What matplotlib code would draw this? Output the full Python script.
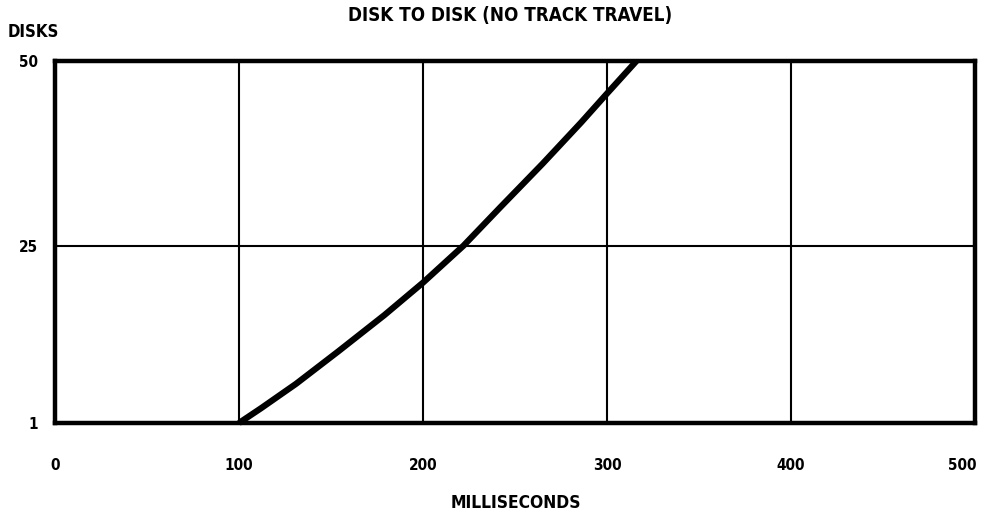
import matplotlib
matplotlib.use("Agg")
import matplotlib.pyplot as plt
from matplotlib.transforms import ScaledTranslation

# Seek time curve: milliseconds to move between disks
milliseconds = [100, 112, 131, 154, 179, 200, 222, 242, 265, 286, 300, 316]
disks = [1, 3.0, 6.3, 10.7, 15.6, 20, 25, 30.2, 36.1, 41.7, 45.6, 50]

x_ticks = [0, 100, 200, 300, 400, 500]
y_ticks = [1, 25, 50]

family = ["DejaVu Sans"]
font = dict(family=family, weight="bold", stretch="condensed")

fig = plt.figure(figsize=(9.88, 5.13), dpi=100)
ax = fig.add_axes([0.0557, 0.1755, 0.9311, 0.7055])

ax.set_xlim(0, 500)
ax.set_ylim(1, 50)
ax.set_xticks(x_ticks)
ax.set_yticks(y_ticks)
ax.grid(True, color="black", linewidth=1.5)
ax.set_axisbelow(True)

ax.plot(milliseconds, disks, color="black", linewidth=4.5,
        solid_capstyle="butt", solid_joinstyle="round", zorder=3,
        clip_on=False)

for s in ax.spines.values():
    s.set_linewidth(3.2)
    s.set_color("black")

ax.tick_params(axis="y", length=0, pad=12)
ax.tick_params(axis="x", length=0, pad=25)
for lab in ax.get_xticklabels() + ax.get_yticklabels():
    lab.set_fontfamily(family)
    lab.set_fontweight("bold")
    lab.set_fontstretch("condensed")
    lab.set_fontsize(11)

# keep the last x label inside the figure edge
last = ax.get_xticklabels()[-1]
last.set_transform(last.get_transform() +
                   ScaledTranslation(-9 / 72, 0, fig.dpi_scale_trans))

fig.text(0.516, 0.97, "DISK TO DISK (NO TRACK TRAVEL)", ha="center",
         va="center", fontsize=13.5, **font)
fig.text(0.008, 0.937, "DISKS", ha="left", va="center", fontsize=12, **font)
fig.text(0.522, 0.02, "MILLISECONDS", ha="center", va="center",
         fontsize=12.5, **font)

fig.savefig("out.png", dpi=100, facecolor="white")
